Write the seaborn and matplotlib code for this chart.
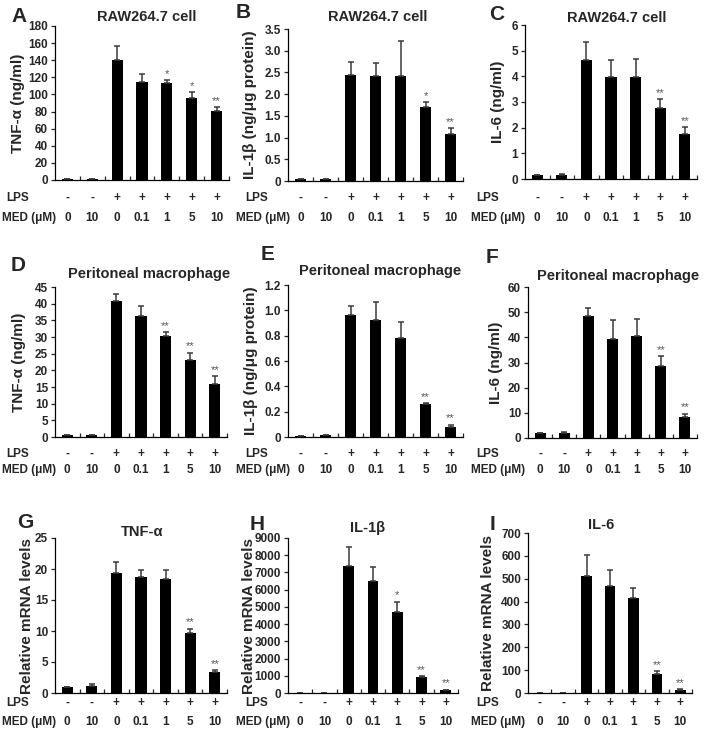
import matplotlib
matplotlib.use("Agg")
import matplotlib.pyplot as plt
import matplotlib.transforms as mtransforms
import seaborn as sns
import pandas as pd

# ------------------------------
# Data
# ------------------------------
lps = ["-", "-", "+", "+", "+", "+", "+"]
med = ["0", "10", "0", "0.1", "1", "5", "10"]

# RAW264.7 cell (protein)
raw_tnf = [1.5, 1.5, 140, 115, 113, 96, 81]
raw_tnf_err = [0, 0, 17, 9, 3.5, 7, 4]
raw_tnf_sig = ["", "", "", "", "*", "*", "**"]

raw_il1b = [0.05, 0.05, 2.44, 2.42, 2.42, 1.70, 1.08]
raw_il1b_err = [0, 0, 0.29, 0.30, 0.80, 0.11, 0.13]
raw_il1b_sig = ["", "", "", "", "", "*", "**"]

raw_il6 = [0.14, 0.17, 4.64, 3.98, 3.98, 2.77, 1.76]
raw_il6_err = [0.01, 0.01, 0.71, 0.66, 0.69, 0.33, 0.25]
raw_il6_sig = ["", "", "", "", "", "**", "**"]

# Peritoneal macrophage (protein)
pm_tnf = [0.7, 0.7, 40.8, 36.4, 30.2, 23.0, 15.8]
pm_tnf_err = [0, 0, 2.1, 3.0, 1.2, 2.3, 2.5]
pm_tnf_sig = ["", "", "", "", "**", "**", "**"]

pm_il1b = [0.01, 0.015, 0.965, 0.92, 0.78, 0.26, 0.078]
pm_il1b_err = [0, 0, 0.07, 0.145, 0.125, 0.01, 0.02]
pm_il1b_sig = ["", "", "", "", "", "**", "**"]

pm_il6 = [2.0, 2.1, 48.5, 39.5, 40.7, 28.6, 8.4]
pm_il6_err = [0, 0.2, 3.2, 7.4, 6.5, 4.0, 1.3]
pm_il6_sig = ["", "", "", "", "", "**", "**"]

# mRNA levels
mrna_tnf = [1.0, 1.2, 19.3, 18.7, 18.4, 9.7, 3.35]
mrna_tnf_err = [0, 0.3, 1.8, 1.2, 1.5, 0.7, 0.3]
mrna_tnf_sig = ["", "", "", "", "", "**", "**"]

mrna_il1b = [5, 5, 7400, 6490, 4700, 925, 154]
mrna_il1b_err = [0, 0, 1050, 800, 600, 40, 40]
mrna_il1b_sig = ["", "", "", "", "*", "**", "**"]

mrna_il6 = [1, 1, 510, 468, 414, 83, 12]
mrna_il6_err = [0, 0, 94, 72, 46, 12, 4]
mrna_il6_sig = ["", "", "", "", "", "**", "**"]

W, H = 704, 742

# panel letter, title, ylabel, values, errors, stars, ymax, ystep, decimals
panels = [
    ("A", "RAW264.7 cell", "TNF-α (ng/ml)", raw_tnf, raw_tnf_err, raw_tnf_sig, 180, 20, 0),
    ("B", "RAW264.7 cell", "IL-1β (ng/μg protein)", raw_il1b, raw_il1b_err, raw_il1b_sig, 3.5, 0.5, 1),
    ("C", "RAW264.7 cell", "IL-6 (ng/ml)", raw_il6, raw_il6_err, raw_il6_sig, 6, 1, 0),
    ("D", "Peritoneal macrophage", "TNF-α (ng/ml)", pm_tnf, pm_tnf_err, pm_tnf_sig, 45, 5, 0),
    ("E", "Peritoneal macrophage", "IL-1β (ng/μg protein)", pm_il1b, pm_il1b_err, pm_il1b_sig, 1.2, 0.2, 1),
    ("F", "Peritoneal macrophage", "IL-6 (ng/ml)", pm_il6, pm_il6_err, pm_il6_sig, 60, 10, 0),
    ("G", "TNF-α", "Relative mRNA levels", mrna_tnf, mrna_tnf_err, mrna_tnf_sig, 25, 5, 0),
    ("H", "IL-1β", "Relative mRNA levels", mrna_il1b, mrna_il1b_err, mrna_il1b_sig, 9000, 1000, 0),
    ("I", "IL-6", "Relative mRNA levels", mrna_il6, mrna_il6_err, mrna_il6_sig, 700, 100, 0),
]

# layout in pixels: axes box (left, top, right, bottom), letter pos, title pos, ylabel center x
boxes = [
    (55, 26, 229, 180), (288, 29, 463, 181), (525, 25, 697, 179),
    (55, 287, 227, 437), (288, 285, 463, 437), (528, 287, 697, 438),
    (55, 538, 227, 693), (288, 538, 458, 693), (528, 533, 692, 693),
]
letters = [(11, 17), (236, 13), (489, 15), (11, 266), (261, 255), (486, 258),
           (17, 522), (250, 524), (490, 524)]
titles = [(147, 17), (378, 17), (617, 18), (149, 274), (380, 271), (618, 276),
          (142, 532), (368, 528), (601, 525)]
ylab_x = [18, 250, 498, 19, 251, 496, 27, 249, 488]
row_y = [(198, 218), (454, 470), (703, 722)]
col_x = [(6, 2), (245, 236), (476, 471)]

sns.set_style("ticks")
plt.rcParams["font.family"] = ["Liberation Sans", "DejaVu Sans"]
plt.rcParams["font.weight"] = "bold"

fig = plt.figure(figsize=(W / 100, H / 100), dpi=100)
fig.patch.set_facecolor("white")


def fx(px):
    return px / W


def fy(py):
    return 1 - py / H


for k, (letter, title, ylabel, vals, errs, sig, ymax, ystep, dec) in enumerate(panels):
    l, t, r, b = boxes[k]
    ax = fig.add_axes([fx(l), fy(b), (r - l) / W, (b - t) / H])
    df = pd.DataFrame({"group": [f"g{i}" for i in range(7)], "value": vals})
    sns.barplot(data=df, x="group", y="value", color="black", width=0.45,
                saturation=1, edgecolor="black", linewidth=0, ax=ax)
    ax.errorbar(range(7), vals, yerr=[[0] * 7, errs], fmt="none",
                ecolor="#3a3a3a", elinewidth=1.1, capsize=2, capthick=1.1)
    for i, s in enumerate(sig):
        if s:
            ax.text(i, vals[i] + errs[i] + ymax * 0.008, s, ha="center", va="bottom",
                    fontsize=8, color="#555555", fontweight="normal")

    ax.set_xlim(-0.5, 6.5)
    ax.set_ylim(0, ymax)
    ticks = [ystep * j for j in range(int(round(ymax / ystep)) + 1)]
    ax.set_yticks(ticks)
    ax.set_yticklabels(["0" if v == 0 else f"{v:.{dec}f}" for v in ticks],
                       fontsize=8.5, fontweight="bold")
    ax.set_xticks(range(7))
    ax.set_xticklabels([])
    ax.set_xticks([i + 0.5 for i in range(7)], minor=True)
    ax.tick_params(axis="x", which="major", length=0)
    ax.tick_params(axis="x", which="minor", direction="in", length=3, width=0.9)
    ax.tick_params(axis="y", direction="out", length=3, width=0.9, pad=2)
    ax.set_xlabel("")
    ax.set_ylabel(ylabel, fontsize=11, fontweight="bold")
    ax.yaxis.set_label_coords((ylab_x[k] + 7 - l) / (r - l), 0.5)
    sns.despine(ax=ax)
    for sp in ("left", "bottom"):
        ax.spines[sp].set_linewidth(0.9)
        ax.spines[sp].set_color("black")

    tx, ty = titles[k]
    fig.text(fx(tx), fy(ty), title, ha="center", va="center", fontsize=10.5, fontweight="bold")
    lx, ly = letters[k]
    fig.text(fx(lx), fy(ly), letter, ha="left", va="center", fontsize=15, fontweight="bold")

    # LPS / MED rows under the bars
    row, col = divmod(k, 3)
    y_lps, y_med = row_y[row]
    trans = mtransforms.blended_transform_factory(ax.transData, fig.transFigure)
    for i in range(7):
        ax.text(i, fy(y_lps), lps[i], transform=trans, ha="center", va="center",
                fontsize=8.5, fontweight="bold")
        ax.text(i, fy(y_med), med[i], transform=trans, ha="center", va="center",
                fontsize=8.5, fontweight="bold")
    fig.text(fx(col_x[col][0]), fy(y_lps), "LPS", ha="left", va="center",
             fontsize=8.5, fontweight="bold")
    fig.text(fx(col_x[col][1]), fy(y_med), "MED (μM)", ha="left", va="center",
             fontsize=8.5, fontweight="bold")

fig.savefig("out.png", dpi=100, facecolor="white")
